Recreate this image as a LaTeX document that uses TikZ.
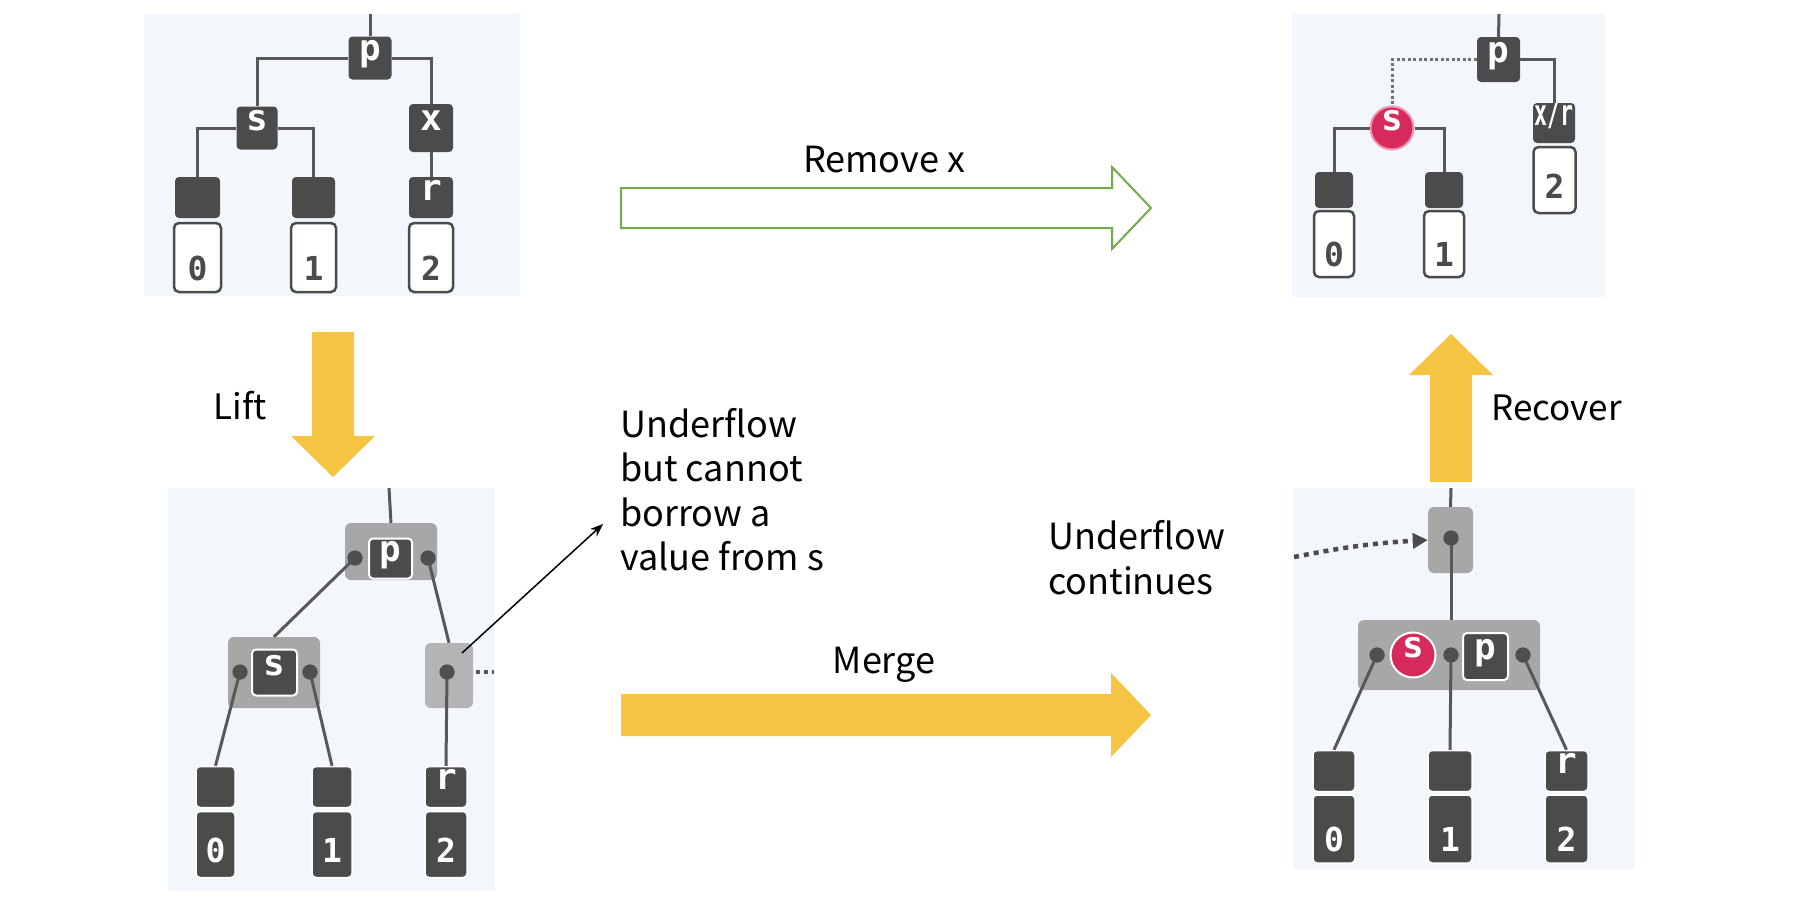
\documentclass[tikz,border=0pt]{standalone}
\usepackage{fontspec}
\usepackage{graphicx}
\newfontfamily\txtfont{Noto Sans CJK SC}
\newfontfamily\monob{DejaVu Sans Mono}
\usetikzlibrary{arrows.meta,calc}
\definecolor{bgc}{HTML}{F3F7FB}
\definecolor{keyc}{HTML}{4B4B4B}
\definecolor{edgec}{HTML}{585858}
\definecolor{dotc}{HTML}{4F4F4F}
\definecolor{grpc}{HTML}{A7A7A7}
\definecolor{grpl}{HTML}{B4B4B4}
\definecolor{pinkc}{HTML}{D62A5C}
\definecolor{pinkr}{HTML}{EE9AB3}
\definecolor{yel}{HTML}{F5C443}
\definecolor{grn}{HTML}{70AD47}
\tikzset{
  panel/.style={fill=bgc, draw=none},
  key/.style={rectangle, rounded corners=4pt, fill=keyc, text=white, inner sep=0pt,
    font=\monob\bfseries\fontsize{36}{36}\selectfont, text height=0.55em, text depth=0pt},
  keyw/.style={key, draw=white, line width=2pt},
  leafd/.style={rectangle, rounded corners=4pt, fill=keyc, inner sep=0pt, text=white,
    font=\monob\bfseries\fontsize{36}{36}\selectfont, text height=0.55em, text depth=0pt},
  leafw/.style={rectangle, rounded corners=5pt, fill=white, draw=keyc, line width=2.5pt, inner sep=0pt},
  leafb/.style={rectangle, rounded corners=4pt, fill=keyc, draw=white, line width=1.5pt, inner sep=0pt, text=white,
    font=\monob\bfseries\fontsize{36}{36}\selectfont, text height=0.55em, text depth=0pt},
  digit/.style={inner sep=0pt, anchor=base, font=\monob\bfseries\fontsize{33}{33}\selectfont},
  edge/.style={draw=edgec, line width=3pt},
  dotedge/.style={draw=edgec!85, line width=3pt, dash pattern=on 3pt off 2.5pt},
  grp/.style={rectangle, rounded corners=6pt, fill=grpc, inner sep=0pt},
  dotn/.style={circle, fill=dotc, minimum size=15pt, inner sep=0pt},
  pinkn/.style={circle, fill=pinkc, draw=pinkr, line width=2pt, text=white, inner sep=0pt,
    minimum size=43pt, font=\monob\bfseries\fontsize{36}{36}\selectfont, text height=0.55em, text depth=0pt},
  lbl/.style={inner sep=0pt, text=black, font=\txtfont\fontsize{35}{45}\selectfont},
  yarrow/.style={fill=yel, draw=none},
}
\begin{document}
\begin{tikzpicture}[x=1pt,y=-1pt]
\useasboundingbox (0,0) rectangle (1820,906);
\fill[white] (0,0) rectangle (1820,906);

% ---------------- Panel 1 (top left) ----------------
\fill[panel] (144,14) rectangle (520,296);
\coordinate (t1) at (370,14);
\node[key, minimum width=43pt, minimum height=43pt] (p1) at (370,58) {p};
\node[key, minimum width=41pt, minimum height=43pt] (s1) at (257,128) {s};
\node[key, minimum width=44pt, minimum height=48pt] (x1) at (431,128) {x};
\node[leafw, minimum width=47pt, minimum height=69pt] (w10) at (197.5,257.5) {};
\node[leafd, minimum width=45pt, minimum height=41pt] (l10) at (197.5,197.5) {};
\node[leafw, minimum width=45pt, minimum height=69pt] (w11) at (313.5,257.5) {};
\node[leafd, minimum width=43pt, minimum height=41pt] (l11) at (313.5,197.5) {};
\node[leafw, minimum width=44pt, minimum height=69pt] (w1r) at (431,257.5) {};
\node[leafd, minimum width=44pt, minimum height=41pt] (r1) at (431,197.5) {r};
\node[digit, text=keyc] (n10) at (197.5,280) {0};
\node[digit, text=keyc] (n11) at (313.5,280) {1};
\node[digit, text=keyc] (n12) at (431,280) {2};
\draw[edge] (t1) -- (p1.north);
\draw[edge] (p1.west) -| (s1.north);
\draw[edge] (p1.east) -| (x1.north);
\draw[edge] (s1.west) -| (l10.north);
\draw[edge] (s1.east) -| (l11.north);
\draw[edge] (x1.south) -- (r1.north);

% ---------------- Panel 2 (top right) ----------------
\fill[panel] (1292,14) rectangle (1605,297);
\coordinate (t2) at (1499,14);
\node[key, minimum width=43pt, minimum height=45pt] (p2) at (1498.5,59.5) {p};
\node[pinkn] (s2) at (1392,128) {s};
\node[leafw, minimum width=42pt, minimum height=66pt] (w2r) at (1554.5,180) {};
\node[leafd, minimum width=42pt, minimum height=40pt] (xr2) at (1554,123) {\scalebox{0.6}[1]{x/r}};
\node[leafw, minimum width=40pt, minimum height=66pt] (w20) at (1334,244) {};
\node[leafd, minimum width=38pt, minimum height=36pt] (l20) at (1334,190) {};
\node[leafw, minimum width=40pt, minimum height=66pt] (w21) at (1444,244) {};
\node[leafd, minimum width=38pt, minimum height=36pt] (l21) at (1444,190) {};
\node[digit, text=keyc] (n20) at (1334,266) {0};
\node[digit, text=keyc] (n21) at (1444,266) {1};
\node[digit, text=keyc] (n22) at (1554.5,198) {2};
\draw[edge] (t2) -- (p2.north);
\draw[dotedge] (p2.west) -| (s2.north);
\draw[edge] (p2.east) -| (xr2.north);
\draw[edge] (s2.west) -| (l20.north);
\draw[edge] (s2.east) -| (l21.north);

% ---------------- Panel 3 (bottom left) ----------------
\fill[panel] (168,488) rectangle (495,891);
\coordinate (t3) at (389,488);
\node[grp, minimum width=92pt, minimum height=57pt] (g3p) at (391,551.5) {};
\node[grp, minimum width=92pt, minimum height=71pt] (g3s) at (274,672.5) {};
\node[grp, fill=grpl, minimum width=48pt, minimum height=65pt] (g3r) at (449,675.5) {};
\node[leafb, minimum width=39pt, minimum height=66pt] (b30) at (215.5,844.5) {};
\node[leafb, minimum width=39pt, minimum height=41pt] (l30) at (215.5,787) {};
\node[leafb, minimum width=40pt, minimum height=66pt] (b31) at (332,844.5) {};
\node[leafb, minimum width=40pt, minimum height=41pt] (l31) at (332,787) {};
\node[leafb, minimum width=42pt, minimum height=66pt] (b3r) at (446,844.5) {};
\node[leafb, minimum width=42pt, minimum height=41pt] (l3r) at (446,787) {r};
\node[digit, text=white] (n30) at (215.5,862) {0};
\node[digit, text=white] (n31) at (332,862) {1};
\node[digit, text=white] (n32) at (446,862) {2};
\coordinate (e3) at (494,672);
\draw[edge] (t3) -- (g3p.north);
\node[dotn] (d3a) at (355,558) {};
\node[dotn] (d3b) at (428,558) {};
\node[dotn] (d3c) at (240,672) {};
\node[dotn] (d3d) at (310,672) {};
\node[dotn] (d3e) at (447,672) {};
\draw[edge] (d3a.center) -- (g3s.north);
\draw[edge] (d3b.center) -- (g3r.north);
\draw[edge] (d3c.center) -- (l30.north);
\draw[edge] (d3d.center) -- (l31.north);
\draw[edge] (d3e.center) -- (l3r.north);
\draw[draw=edgec, line width=4pt, dash pattern=on 4pt off 4pt] (g3r.east) ++(3,-3.5) -- (e3);
\node[dotn] at (d3a) {};
\node[dotn] at (d3b) {};
\node[dotn] at (d3c) {};
\node[dotn] at (d3d) {};
\node[dotn] at (d3e) {};
\node[keyw, minimum width=43pt, minimum height=40pt] (p3) at (390.5,558.5) {p};
\node[keyw, minimum width=45pt, minimum height=46pt] (s3) at (274.5,672.5) {s};
\coordinate (ca) at (462,653);
\coordinate (cb) at (603,524);
\draw[line width=1.5pt, -{Stealth[length=13pt,width=10pt]}] (ca) -- (cb);

% ---------------- Panel 4 (bottom right) ----------------
\fill[panel] (1294,488) rectangle (1634,869);
\coordinate (t4) at (1451,488);
\coordinate (c4) at (1294,557);
\node[grp, minimum width=45pt, minimum height=66pt] (g4t) at (1450.5,540) {};
\node[grp, minimum width=182pt, minimum height=70pt] (g4m) at (1449,655) {};
\node[leafb, minimum width=42pt, minimum height=68pt] (b40) at (1334,829) {};
\node[leafb, minimum width=42pt, minimum height=41pt] (l40) at (1334,771) {};
\node[leafb, minimum width=44pt, minimum height=68pt] (b41) at (1450,829) {};
\node[leafb, minimum width=44pt, minimum height=41pt] (l41) at (1450,771) {};
\node[leafb, minimum width=43pt, minimum height=68pt] (b4r) at (1566.5,829) {};
\node[leafb, minimum width=43pt, minimum height=41pt] (l4r) at (1566.5,771) {r};
\node[digit, text=white] (n40) at (1334,851) {0};
\node[digit, text=white] (n41) at (1450,851) {1};
\node[digit, text=white] (n42) at (1566.5,851) {2};
\node[dotn] (d4t) at (1451,538) {};
\node[dotn] (d4a) at (1377,655) {};
\node[dotn] (d4b) at (1451,655) {};
\node[dotn] (d4c) at (1523,655) {};
\draw[edge] (t4) -- (g4t.north);
\draw[edge] (d4t.center) -- (d4t.center |- g4m.north);
\draw[edge] (d4a.center) -- (l40.north);
\draw[edge] (d4b.center) -- (l41.north);
\draw[edge] (d4c.center) -- (l4r.north);
\node[dotn] at (d4t) {};
\node[dotn] at (d4a) {};
\node[dotn] at (d4b) {};
\node[dotn] at (d4c) {};
\node[pinkn, draw=white, minimum size=45pt] (s4) at (1413,655) {s};
\node[keyw, minimum width=45pt, minimum height=47pt] (p4) at (1485.5,656.5) {p};
\draw[draw=keyc, line width=4.5pt, dash pattern=on 5pt off 5pt,
      -{Triangle[length=15pt,width=15pt]}] (c4) to[bend left=4] (g4t.west);

% ---------------- Arrows ----------------
\draw[draw=grn, line width=2pt, fill=white, line join=miter]
  (621,188) -- (1112,188) -- (1112,167) -- (1151,208) -- (1112,249) -- (1112,228) -- (621,228) -- cycle;
\fill[yarrow] (312,332) -- (354,332) -- (354,436) -- (375,436) -- (333,477) -- (291,436) -- (312,436) -- cycle;
\fill[yarrow] (1430,482) -- (1472,482) -- (1472,375) -- (1493,375) -- (1451,334) -- (1409,375) -- (1430,375) -- cycle;
\fill[yarrow] (621,694) -- (1111,694) -- (1111,673) -- (1151,715) -- (1111,757) -- (1111,736) -- (621,736) -- cycle;

% ---------------- Texts ----------------
\node[lbl, anchor=base, font=\txtfont\fontsize{36}{40}\selectfont] (trem) at (884,172) {Remove x};
\node[lbl, anchor=base] (tlift) at (240,419) {Lift};
\node[lbl, anchor=base west] (trec) at (1491,420) {Recover};
\node[lbl, anchor=base, font=\txtfont\fontsize{36}{40}\selectfont] (tmerge) at (884,673) {Merge};
\node[lbl, anchor=north west, align=left, font=\txtfont\fontsize{36}{44.5}\selectfont] (tund) at (620,408) {Underflow\\but cannot\\borrow a\\value from s};
\node[lbl, anchor=north west, align=left, font=\txtfont\fontsize{36}{45}\selectfont] (tcont) at (1048,520) {Underflow\\continues};
\end{tikzpicture}
\end{document}
